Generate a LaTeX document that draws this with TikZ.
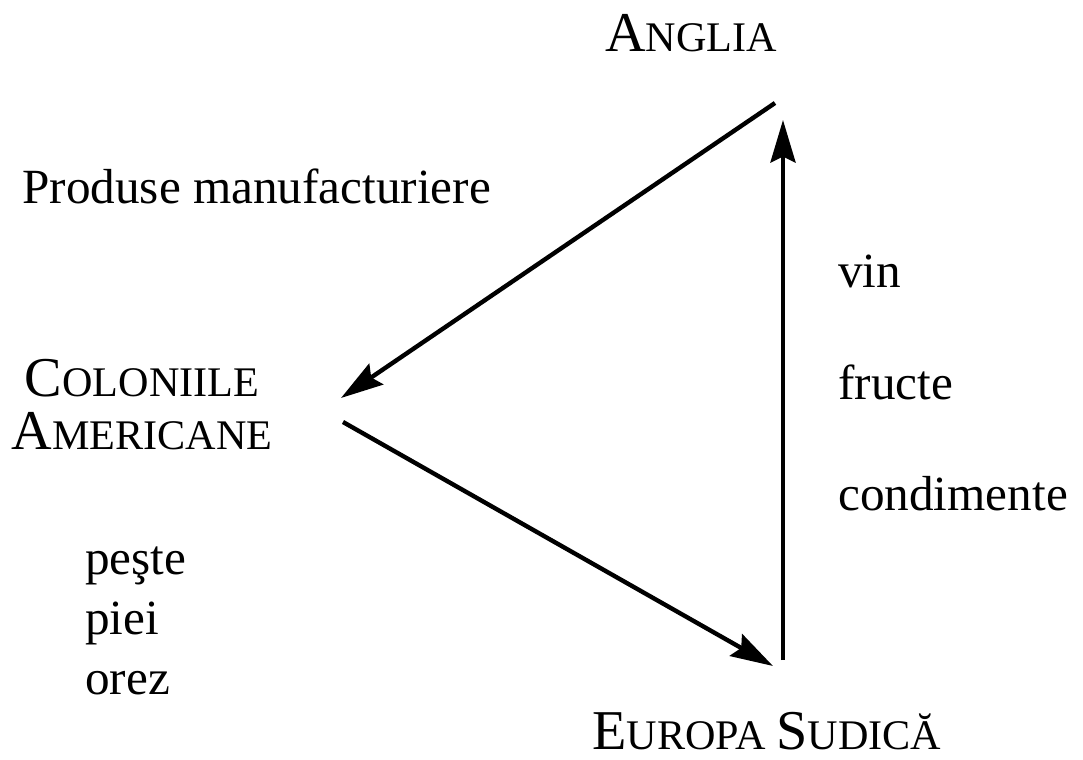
\documentclass[tikz,border=0pt]{standalone}
\usepackage{fontspec}
\setmainfont{Liberation Serif}
\usetikzlibrary{arrows.meta}
% small capitals made by hand, first letter larger
\newcommand{\fakesc}[2]{{\fontsize{32}{36}\selectfont #1}{\fontsize{24}{28}\selectfont #2}}
\tikzset{
  place/.style={anchor=base,inner sep=0pt,font=\fontsize{24}{28}\selectfont},
  goods/.style={anchor=base west,inner sep=0pt,font=\fontsize{28}{32}\selectfont},
  trade/.style={line width=2.5pt,-{Stealth[length=0.85cm,width=0.5cm,inset=0.12cm]}}
}

\begin{document}
\begin{tikzpicture}[x=0.02cm,y=-0.02cm]
\useasboundingbox (0,0) rectangle (1083,760);

% the three regions
\node[place] (anglia) at (691,52) {\fakesc{A}{NGLIA}};
\node[place] (colonii) at (142,397) {\fakesc{C}{OLONIILE}};
\node[place] (americane) at (142,450) {\fakesc{A}{MERICANE}};
\node[place] (europa) at (767,749) {\fakesc{E}{UROPA} \fakesc{S}{UDICĂ}};

% goods
\node[goods] (produse) at (22,204) {Produse manufacturiere};
\node[goods] (vin) at (838,288) {vin};
\node[goods] (fructe) at (838,400) {fructe};
\node[goods] (condimente) at (838,511) {condimente};
\node[goods] (peste) at (85,575) {peşte};
\node[goods] (piei) at (85,634) {piei};
\node[goods] (orez) at (85,694) {orez};

% arrow ends
\coordinate (anglia-out) at (775,103);
\coordinate (anglia-in) at (783,120);
\coordinate (colonii-in) at (341,398);
\coordinate (colonii-out) at (343,422);
\coordinate (europa-in) at (773,666);
\coordinate (europa-out) at (783,660);

\draw[trade] (anglia-out) -- (colonii-in);
\draw[trade] (colonii-out) -- (europa-in);
\draw[trade] (europa-out) -- (anglia-in);

\end{tikzpicture}
\end{document}
